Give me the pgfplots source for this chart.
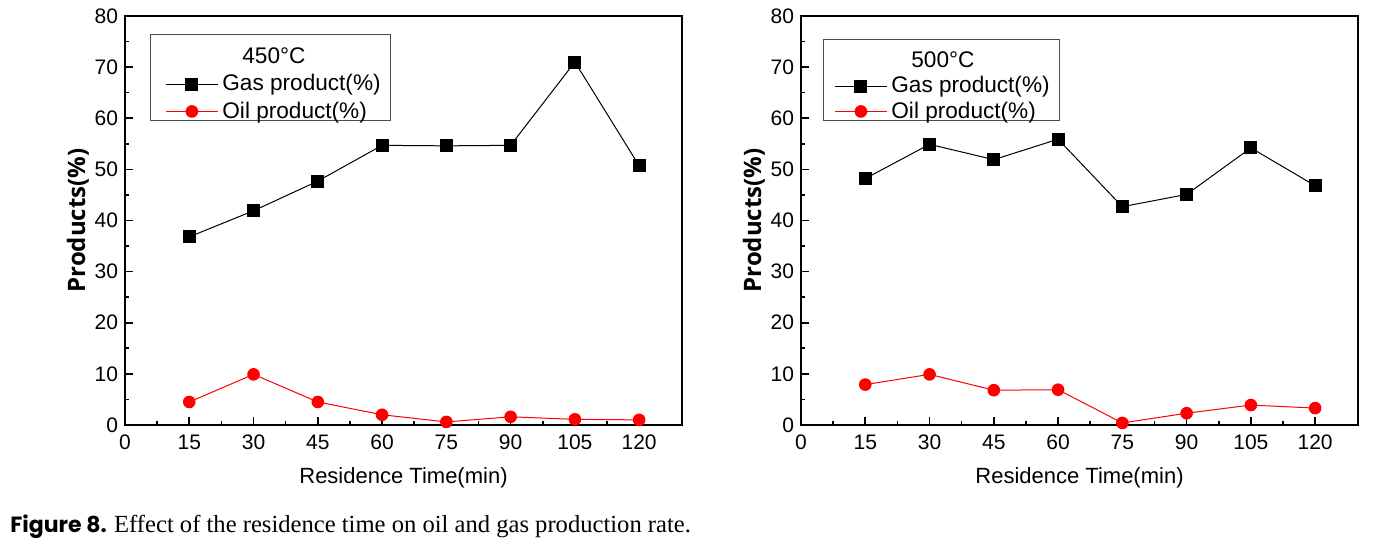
\documentclass[border=0pt]{standalone}
\usepackage{fontspec}
\setmainfont{Liberation Sans}
\newfontfamily\labfont{Open Sans}
\newfontfamily\capbold{Poppins}
\newfontfamily\capserif{Liberation Serif}
\usepackage{pgfplots}
\pgfplotsset{compat=1.18}
\pgfplotstableread{
t gas oil
15 36.8 4.5
30 41.9 9.9
45 47.7 4.5
60 54.7 2.0
75 54.6 0.6
90 54.7 1.6
105 71.0 1.1
120 50.7 1.0
}\dataA
\pgfplotstableread{
t gas oil
15 48.2 7.9
30 54.9 9.9
45 51.9 6.8
60 55.9 6.9
75 42.7 0.4
90 45.1 2.3
105 54.2 3.9
120 46.8 3.3
}\dataB
\pgfplotsset{
 myax/.style={
  width=278.5pt, height=204.5pt, scale only axis,
  xmin=0, xmax=130, ymin=0, ymax=80,
  xtick={0,15,...,120}, ytick={0,10,...,80},
  minor x tick num=1, minor y tick num=1,
  xtick pos=left, ytick pos=left,
  tick align=inside,
  major tick length=4pt, minor tick length=2pt,
  axis line style={line width=1pt},
  every tick/.style={black, line width=0.8pt},
  tick label style={font=\fontsize{10.5}{12}\selectfont},
  xticklabel style={yshift=-1.5pt},
  /pgf/number format/assume math mode=true,
  xlabel={Residence Time(min)},
  ylabel={\labfont\bfseries Products(\%)},
  xlabel style={font=\fontsize{11}{13}\selectfont, at={(axis description cs:0.5,-0.1296)}, anchor=center},
  ylabel style={font=\fontsize{12}{14}\selectfont, at={(axis description cs:-0.0844,0.5)}, anchor=center},
  legend cell align=left,
  legend style={at={(axis description cs:0,1)}, anchor=north west, draw=black!70, line width=0.4pt,
    font=\fontsize{11.3}{14}\selectfont, inner xsep=3pt, inner ysep=-2.5pt, row sep=0pt,
    /tikz/every even column/.append style={column sep=2.5pt}},
 },
 limg/.style={legend image code/.code={\path (0pt,0pt); \draw[mark repeat=2,mark phase=2,##1] plot coordinates {(#1,0pt) (#1+13pt,0pt) (#1+26pt,0pt)};}},
 gas/.style={black, line width=0.5pt, mark=square*, mark size=3pt, mark options={solid}},
 oil/.style={red, line width=0.5pt, mark=*, mark size=2.9pt, mark options={solid}},
}
\begin{document}
\begin{tikzpicture}
\useasboundingbox (0,0) rectangle (689pt,-272pt);
\begin{axis}[myax, limg=4.5pt, at={(62.5pt,-8pt)}, anchor=north west,
  legend style={xshift=12.5pt, yshift=-9pt}]
\addlegendimage{empty legend}
\addlegendentry{\rule{0pt}{15pt}\makebox[0pt][l]{\hspace{10pt}450°C}}
\addplot[gas] table[x=t,y=gas]{\dataA};
\addlegendentry{Gas product(\%)}
\addplot[oil] table[x=t,y=oil]{\dataA};
\addlegendentry{\raisebox{0pt}[\height][0pt]{Oil product(\%)}}
\end{axis}
\begin{axis}[myax, limg=2.5pt, at={(400.5pt,-8pt)}, anchor=north west,
  legend style={xshift=11pt, yshift=-11.5pt, row sep=-1pt}]
\addlegendimage{empty legend}
\addlegendentry{\rule{0pt}{14.5pt}\makebox[0pt][l]{\hspace{10pt}500°C}}
\addplot[gas] table[x=t,y=gas]{\dataB};
\addlegendentry{Gas product(\%)}
\addplot[oil] table[x=t,y=oil]{\dataB};
\addlegendentry{\raisebox{0pt}[\height][0pt]{Oil product(\%)}}
\end{axis}
\node[anchor=base west, inner sep=0pt] at (5pt,-266.5pt)
  {{\capbold\bfseries\fontsize{11}{13}\selectfont Figure 8.} {\capserif\fontsize{12.3}{14}\selectfont Effect of the residence time on oil and gas production rate.}};
\end{tikzpicture}
\end{document}
